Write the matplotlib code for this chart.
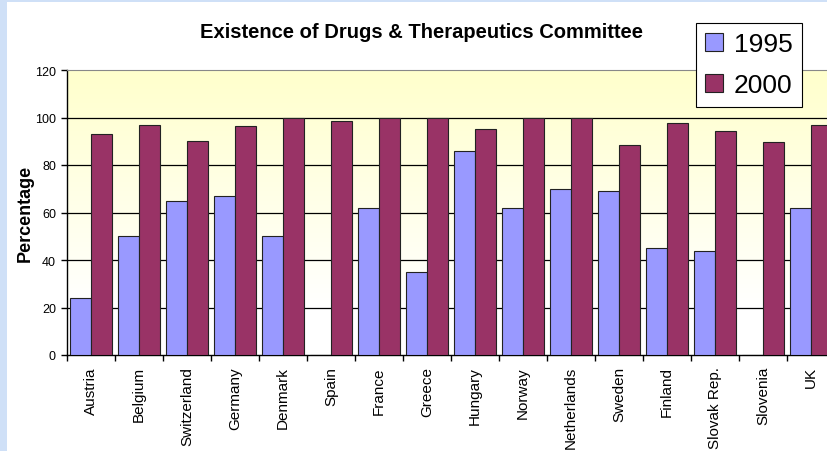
import numpy as np
import matplotlib.pyplot as plt
from matplotlib.patches import Rectangle

countries = ['Austria', 'Belgium', 'Switzerland', 'Germany', 'Denmark', 'Spain',
             'France', 'Greece', 'Hungary', 'Norway', 'Netherlands', 'Sweden',
             'Finland', 'Slovak Rep.', 'Slovenia', 'UK']
pct_1995 = [24, 50, 65, 67, 50, 0, 62, 35, 86, 62, 70, 69, 45, 44, 0, 62]
pct_2000 = [93, 97, 90, 96.5, 100, 98.5, 100, 100, 95, 100, 100, 88.5, 97.5, 94.5, 89.5, 97]

plt.rcParams['font.family'] = ['Liberation Sans', 'DejaVu Sans']

W, H = 827, 452
fig = plt.figure(figsize=(W / 100, H / 100), dpi=100)
fig.patch.set_facecolor('white')

# light blue page border at the left and top
fig.patches.append(Rectangle((0, 0), 7 / W, 1, transform=fig.transFigure,
                             facecolor='#cfe0f7', edgecolor='none', zorder=0))
fig.patches.append(Rectangle((0, 1 - 3 / H), 1, 3 / H, transform=fig.transFigure,
                             facecolor='#cfe0f7', edgecolor='none', zorder=0))

# plot area runs past the right edge of the picture
ax = fig.add_axes([67 / W, (H - 356) / H, 768 / W, 285 / H])
ax.set_xlim(0, 16)
ax.set_ylim(0, 120)

# yellow -> white gradient background
grad = np.ones((200, 1, 3))
t = np.linspace(0, 1, 200)[:, None]  # 0 bottom, 1 top
w = np.clip((t - 1 / 6) / (5 / 6), 0, 1)
yellow = np.array([1.0, 1.0, 0.8])
grad[:, 0, :] = (1 - w) * 1.0 + w * yellow
ax.imshow(grad, extent=[0, 16, 0, 120], origin='lower', aspect='auto', zorder=0)

x = np.arange(len(countries)) + 0.5
bw = 0.445
ax.bar(x - bw / 2, pct_1995, bw, color='#9999ff', edgecolor='#222222', linewidth=0.8, zorder=3, label='1995')
ax.bar(x + bw / 2, pct_2000, bw, color='#993366', edgecolor='#222222', linewidth=0.8, zorder=3, label='2000')

for yv in [20, 40, 60, 80, 100]:
    ax.axhline(yv, color='black', linewidth=0.9, zorder=2)

ax.spines['right'].set_visible(False)
ax.spines['top'].set_color('#888888')
ax.spines['left'].set_linewidth(1.0)
ax.spines['bottom'].set_linewidth(1.0)

ax.set_yticks(np.arange(0, 121, 20))
ax.tick_params(axis='y', labelsize=9, length=4, width=1, pad=4)
ax.set_xticks(np.arange(0, 17))
ax.set_xticklabels([])
ax.tick_params(axis='x', which='major', length=4, width=1)
ax.set_xticks(x, minor=True)
ax.set_xticklabels(countries, minor=True, rotation=90, fontsize=11, va='top')
ax.tick_params(axis='x', which='minor', length=0, pad=8)

ax.set_ylabel('Percentage', fontsize=13, fontweight='bold', labelpad=1)

fig.text(422 / W, 1 - 32 / H, 'Existence of Drugs & Therapeutics Committee',
         ha='center', va='center', fontsize=14.5, fontweight='bold')

leg = fig.legend(loc='upper right', bbox_to_anchor=(802 / W, 1 - 24 / H),
                 fontsize=19, frameon=True, fancybox=False, framealpha=1,
                 edgecolor='black', handlelength=0.7, handleheight=0.7,
                 handletextpad=0.4, borderpad=0.35, labelspacing=0.65, borderaxespad=0)
leg.get_frame().set_linewidth(0.8)

fig.savefig('out.png', dpi=100)
